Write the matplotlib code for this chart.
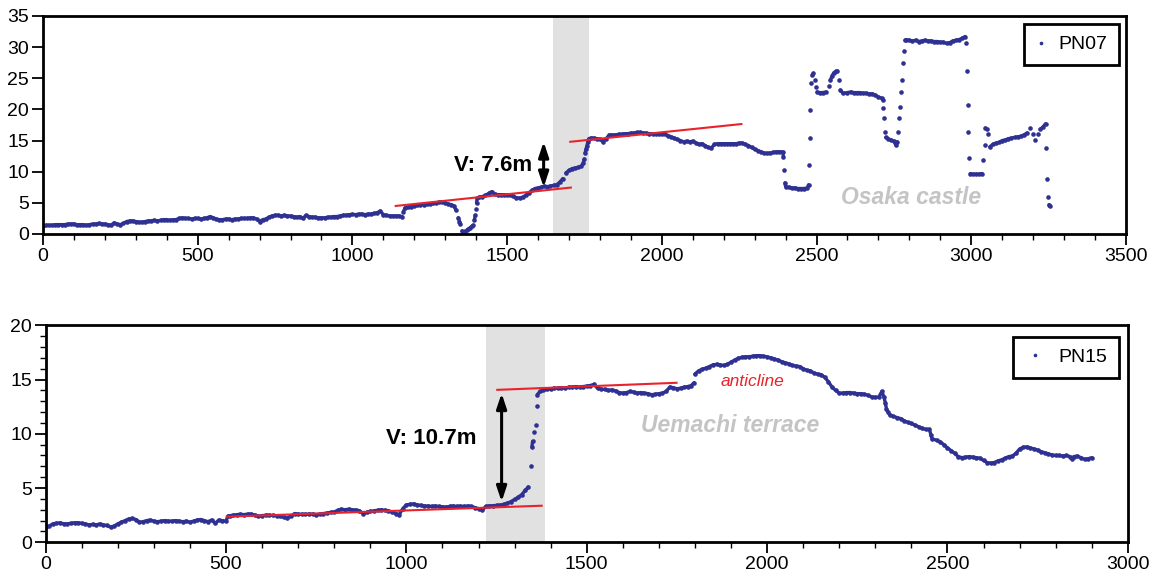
import numpy as np
import matplotlib
matplotlib.use("Agg")
import matplotlib.pyplot as plt
from matplotlib.ticker import MultipleLocator

plt.rcParams["font.family"] = ["Liberation Sans", "DejaVu Sans"]

# PN07 profile: (distance m, elevation m)
pn07 = [
    (0, 1.3), (10, 1.4), (20, 1.4), (30, 1.4), (40, 1.5), (50, 1.5), (60, 1.5), (70, 1.5), (80, 1.6), (90, 1.6),
    (100, 1.6), (110, 1.5), (120, 1.5), (130, 1.5), (140, 1.4), (150, 1.5), (160, 1.6), (170, 1.6), (180, 1.7), (190, 1.6),
    (200, 1.6), (210, 1.5), (220, 1.4), (230, 1.8), (240, 1.6), (250, 1.5), (260, 1.7), (270, 2.0), (280, 2.1), (290, 2.1),
    (300, 2.0), (310, 1.9), (320, 1.9), (330, 2.0), (340, 2.1), (350, 2.1), (360, 2.2), (370, 2.1), (380, 2.2), (390, 2.3),
    (400, 2.3), (410, 2.2), (420, 2.3), (430, 2.3), (440, 2.5), (450, 2.6), (460, 2.5), (470, 2.5), (480, 2.4), (490, 2.5),
    (500, 2.5), (510, 2.4), (520, 2.5), (530, 2.6), (540, 2.8), (550, 2.6), (560, 2.4), (570, 2.3), (580, 2.3), (590, 2.4),
    (600, 2.4), (610, 2.3), (620, 2.4), (630, 2.4), (640, 2.5), (650, 2.5), (660, 2.5), (670, 2.6), (680, 2.6), (690, 2.4),
    (700, 2.0), (710, 2.3), (720, 2.4), (730, 2.7), (740, 2.9), (750, 3.0), (760, 3.0), (770, 2.9), (780, 3.0), (790, 2.9),
    (800, 2.9), (810, 2.8), (820, 2.7), (830, 2.8), (840, 2.5), (850, 3.0), (860, 2.8), (870, 2.7), (880, 2.7), (890, 2.6),
    (900, 2.6), (910, 2.6), (920, 2.7), (930, 2.7), (940, 2.8), (950, 2.8), (960, 2.9), (970, 3.0), (980, 3.0), (990, 3.1),
    (1000, 3.15), (1010, 3.1), (1020, 3.2), (1030, 3.2), (1040, 3.1), (1050, 3.2), (1060, 3.2), (1070, 3.3), (1080, 3.4),
    (1090, 3.7), (1100, 3.1), (1110, 3.0), (1120, 2.9), (1130, 2.9), (1140, 2.9), (1150, 2.9), (1160, 2.8), (1165, 3.6),
    (1170, 4.2), (1180, 4.3), (1190, 4.4), (1200, 4.5), (1210, 4.6), (1220, 4.7), (1230, 4.7), (1240, 4.8), (1250, 4.8),
    (1260, 4.9), (1270, 5.0), (1280, 5.1), (1290, 5.2), (1300, 5.0), (1310, 4.8), (1320, 4.7), (1328, 4.5),
    (1335, 3.8), (1342, 2.6), (1346, 2.0), (1349, 1.6), (1354, 0.5), (1360, 0.3), (1365, 0.4), (1370, 0.6), (1375, 0.8),
    (1380, 1.0), (1385, 1.2), (1390, 1.4), (1394, 2.2), (1397, 3.0), (1399, 4.0), (1401, 5.0), (1403, 5.7), (1410, 5.9),
    (1420, 6.0), (1430, 6.2), (1440, 6.5), (1450, 6.8), (1460, 6.4), (1470, 6.3), (1480, 6.3), (1490, 6.3), (1500, 6.2),
    (1510, 6.3), (1520, 6.1), (1530, 5.8), (1540, 5.8), (1550, 5.9), (1560, 6.2), (1570, 6.6), (1580, 7.0), (1590, 7.3),
    (1600, 7.4), (1610, 7.5), (1620, 7.7), (1630, 7.6), (1640, 7.7), (1650, 7.8), (1660, 7.9), (1670, 8.3), (1680, 8.9),
    (1690, 9.8), (1700, 10.2), (1710, 10.5), (1720, 10.6), (1730, 10.7), (1740, 10.9), (1746, 11.4), (1749, 12.0),
    (1752, 13.0), (1755, 13.6), (1758, 14.2), (1761, 14.8), (1764, 15.3), (1770, 15.4), (1780, 15.4), (1790, 15.3),
    (1800, 15.2), (1810, 14.8), (1820, 15.3), (1830, 15.9), (1840, 15.9), (1850, 15.9), (1860, 16.0), (1870, 16.0),
    (1880, 16.1), (1890, 16.1), (1900, 16.2), (1910, 16.2), (1920, 16.3), (1930, 16.3), (1940, 16.2), (1950, 16.2),
    (1960, 16.1), (1970, 16.1), (1980, 16.1), (1990, 16.1), (2000, 16.0), (2010, 16.0), (2020, 15.8), (2030, 15.6),
    (2040, 15.4), (2050, 15.2), (2060, 15.0), (2070, 14.8), (2080, 14.9), (2090, 14.8), (2100, 14.9), (2110, 14.6),
    (2120, 14.4), (2130, 14.5), (2140, 14.2), (2150, 13.9), (2160, 13.8), (2170, 14.4), (2180, 14.5), (2190, 14.5),
    (2200, 14.5), (2210, 14.5), (2220, 14.5), (2230, 14.5), (2240, 14.5), (2250, 14.6), (2260, 14.6), (2270, 14.4),
    (2280, 14.2), (2290, 13.9), (2300, 13.6), (2310, 13.4), (2320, 13.2), (2330, 13.0), (2340, 12.95), (2350, 13.0),
    (2360, 13.1), (2370, 13.2), (2380, 13.2), (2390, 13.2), (2393, 12.4), (2396, 10.3), (2398, 8.2), (2400, 7.6),
    (2410, 7.5), (2420, 7.4), (2430, 7.4), (2440, 7.3), (2450, 7.3), (2460, 7.3), (2470, 7.4), (2474, 7.9),
    (2476, 11.1), (2478, 15.4), (2480, 19.9), (2483, 24.2), (2486, 25.5), (2490, 25.8), (2494, 24.8), (2498, 23.6),
    (2502, 22.8), (2510, 22.7), (2520, 22.7), (2530, 22.8), (2540, 23.8), (2545, 24.7), (2550, 25.4), (2556, 25.9),
    (2562, 26.1), (2567, 26.1), (2572, 24.7), (2577, 23.1), (2585, 22.6), (2600, 22.7), (2610, 22.8), (2620, 22.7),
    (2630, 22.7), (2640, 22.7), (2650, 22.6), (2660, 22.6), (2670, 22.5), (2680, 22.5), (2690, 22.3), (2700, 22.0),
    (2710, 21.8), (2714, 21.5), (2716, 20.2), (2718, 18.6), (2720, 16.4), (2724, 15.5), (2730, 15.3), (2740, 15.1),
    (2750, 14.9), (2756, 14.3), (2760, 14.8), (2763, 16.4), (2766, 18.6), (2769, 20.4), (2772, 22.8), (2775, 24.7),
    (2778, 27.4), (2782, 29.3), (2786, 31.1), (2790, 31.2), (2800, 31.1), (2810, 31.0), (2820, 31.1), (2830, 30.9),
    (2840, 31.0), (2850, 31.1), (2860, 31.0), (2870, 31.0), (2880, 30.9), (2890, 30.9), (2900, 30.8), (2910, 30.8),
    (2920, 30.6), (2930, 30.7), (2940, 31.0), (2950, 31.1), (2960, 31.2), (2970, 31.4), (2980, 31.7), (2984, 30.6),
    (2986, 26.1), (2988, 20.7), (2990, 16.4), (2993, 12.2), (2997, 9.7), (3005, 9.6), (3015, 9.6), (3025, 9.6),
    (3035, 9.7), (3038, 11.9), (3043, 14.3), (3046, 17.0), (3050, 16.8), (3055, 16.0), (3060, 14.0), (3070, 14.4),
    (3080, 14.6), (3090, 14.7), (3100, 15.0), (3110, 15.1), (3120, 15.3), (3130, 15.4), (3140, 15.5), (3150, 15.6),
    (3160, 15.7), (3170, 15.9), (3180, 16.2), (3190, 17.0), (3200, 16.0), (3207, 15.1), (3215, 16.0), (3223, 16.8),
    (3232, 17.2), (3240, 17.7), (3243, 13.8), (3246, 8.9), (3249, 6.0), (3251, 4.7), (3253, 4.5),
]

# PN15 profile
pn15 = [
    (0, 1.45), (10, 1.5), (20, 1.7), (30, 1.75), (40, 1.8), (50, 1.7), (60, 1.7), (70, 1.75), (80, 1.8), (90, 1.8),
    (100, 1.75), (110, 1.7), (120, 1.6), (130, 1.65), (140, 1.6), (150, 1.7), (160, 1.6), (170, 1.55), (180, 1.4),
    (190, 1.5), (200, 1.7), (210, 1.85), (220, 2.0), (230, 2.15), (240, 2.2), (250, 2.1), (260, 1.85), (270, 1.9),
    (280, 2.0), (290, 2.05), (300, 1.95), (310, 1.9), (320, 1.95), (330, 2.0), (340, 1.95), (350, 1.95), (360, 2.0),
    (370, 1.95), (380, 1.9), (390, 1.95), (400, 1.85), (410, 1.95), (420, 2.05), (430, 2.1), (440, 2.0), (450, 1.9),
    (460, 2.05), (470, 1.75), (480, 2.05), (490, 2.0), (500, 1.95), (505, 2.4), (510, 2.45), (520, 2.5), (530, 2.55),
    (540, 2.58), (550, 2.55), (560, 2.6), (570, 2.6), (580, 2.5), (590, 2.4), (600, 2.45), (610, 2.5), (620, 2.5),
    (630, 2.48), (640, 2.45), (650, 2.4), (660, 2.3), (670, 2.27), (680, 2.4), (690, 2.65), (700, 2.6), (710, 2.58),
    (720, 2.58), (730, 2.6), (740, 2.6), (750, 2.55), (760, 2.6), (770, 2.65), (780, 2.7), (790, 2.75), (800, 2.8),
    (810, 2.95), (820, 3.05), (830, 3.0), (840, 3.05), (850, 3.0), (860, 2.98), (870, 2.9), (880, 2.65), (890, 2.75),
    (900, 2.85), (910, 2.9), (920, 2.95), (930, 3.0), (940, 2.95), (950, 2.9), (960, 2.8), (970, 2.65), (980, 2.55),
    (990, 3.1), (1000, 3.45), (1010, 3.5), (1020, 3.55), (1030, 3.45), (1040, 3.4), (1050, 3.35), (1060, 3.35),
    (1070, 3.3), (1080, 3.35), (1090, 3.3), (1100, 3.28), (1110, 3.25), (1120, 3.3), (1130, 3.35), (1140, 3.3),
    (1150, 3.33), (1160, 3.3), (1170, 3.35), (1180, 3.3), (1190, 3.2), (1200, 3.1), (1210, 2.95), (1220, 3.3),
    (1230, 3.35), (1240, 3.38), (1250, 3.4), (1260, 3.42), (1270, 3.5), (1280, 3.6), (1290, 3.75), (1300, 3.95),
    (1310, 4.15), (1320, 4.4), (1330, 4.8), (1338, 5.1), (1345, 7.0), (1348, 8.8), (1350, 9.3), (1355, 10.2),
    (1359, 10.8), (1361, 12.6), (1363, 13.6), (1370, 13.9), (1380, 14.0), (1390, 14.1), (1400, 14.15), (1410, 14.2),
    (1420, 14.2), (1430, 14.25), (1440, 14.2), (1450, 14.3), (1460, 14.3), (1470, 14.35), (1480, 14.3), (1490, 14.35),
    (1500, 14.4), (1510, 14.45), (1520, 14.55), (1530, 14.2), (1540, 14.1), (1550, 14.1), (1560, 14.0), (1570, 14.05),
    (1580, 13.95), (1590, 13.8), (1600, 13.75), (1610, 13.8), (1620, 13.9), (1630, 13.85), (1640, 13.75), (1650, 13.8),
    (1660, 13.75), (1670, 13.7), (1680, 13.6), (1690, 13.65), (1700, 13.7), (1710, 13.75), (1720, 13.9), (1730, 14.3),
    (1740, 14.25), (1750, 14.15), (1760, 14.2), (1770, 14.3), (1780, 14.35), (1790, 14.45), (1797, 14.7), (1800, 15.5),
    (1810, 15.8), (1820, 15.95), (1830, 16.05), (1840, 16.2), (1850, 16.35), (1860, 16.4), (1870, 16.35), (1880, 16.3),
    (1890, 16.4), (1900, 16.6), (1910, 16.8), (1920, 16.95), (1930, 17.05), (1940, 17.1), (1950, 17.1), (1960, 17.15),
    (1970, 17.2), (1980, 17.2), (1990, 17.15), (2000, 17.1), (2010, 17.0), (2020, 16.9), (2030, 16.8), (2040, 16.65),
    (2050, 16.55), (2060, 16.45), (2070, 16.3), (2080, 16.25), (2090, 16.2), (2100, 16.0), (2110, 15.85), (2120, 15.8),
    (2130, 15.6), (2140, 15.5), (2150, 15.45), (2160, 15.2), (2170, 14.8), (2180, 14.3), (2190, 14.0), (2200, 13.75),
    (2210, 13.75), (2220, 13.8), (2230, 13.8), (2240, 13.75), (2250, 13.7), (2260, 13.7), (2270, 13.65), (2280, 13.55),
    (2290, 13.4), (2300, 13.35), (2310, 13.4), (2318, 13.9), (2324, 13.4), (2328, 12.8), (2331, 12.3), (2335, 12.0),
    (2340, 11.75), (2350, 11.6), (2360, 11.5), (2370, 11.4), (2380, 11.2), (2390, 11.05), (2400, 10.95), (2410, 10.8),
    (2420, 10.65), (2430, 10.5), (2440, 10.4), (2450, 10.4), (2454, 9.9), (2457, 9.55), (2470, 9.4), (2480, 9.25),
    (2490, 9.0), (2500, 8.7), (2510, 8.45), (2520, 8.2), (2530, 7.9), (2540, 7.8), (2550, 7.85), (2560, 7.9),
    (2570, 7.85), (2580, 7.8), (2590, 7.75), (2600, 7.55), (2610, 7.35), (2620, 7.3), (2630, 7.35), (2640, 7.5),
    (2650, 7.6), (2660, 7.75), (2670, 7.9), (2680, 7.95), (2690, 8.2), (2700, 8.6), (2710, 8.75), (2720, 8.8),
    (2730, 8.7), (2740, 8.6), (2750, 8.5), (2760, 8.35), (2770, 8.25), (2780, 8.15), (2790, 8.05), (2800, 8.0),
    (2810, 8.0), (2820, 7.95), (2830, 8.0), (2840, 7.9), (2845, 7.7), (2850, 7.9), (2860, 7.95), (2870, 7.8),
    (2880, 7.65), (2890, 7.7), (2900, 7.8),
]

# fitted red lines, shaded scarp zones and throw arrows
pn07_lines = [((1140, 1706), (4.5, 7.45)), ((1704, 2257), (14.8, 17.65))]
pn15_lines = [((502, 1375), (2.36, 3.37)), ((1252, 1749), (14.05, 14.7))]
pn07_band = (1648, 1764)
pn15_band = (1221, 1384)
pn07_arrow = (1618, 7.5, 14.8)
pn15_arrow = (1264, 3.74, 13.73)

BLUE = "#2e3192"
RED = "#e8232b"
GREY_BAND = "#e0e1e0"
GREY_TEXT = "#c4c4c4"

fig = plt.figure(figsize=(11.5, 5.79), dpi=100)
ax1 = fig.add_axes([0.0374, 0.5959, 0.9417, 0.3765])
ax2 = fig.add_axes([0.0397, 0.0634, 0.941, 0.3748])


def style(ax, xmax, ymax, yminor):
    ax.set_xlim(0, xmax)
    ax.set_ylim(0, ymax)
    ax.xaxis.set_major_locator(MultipleLocator(500))
    ax.xaxis.set_minor_locator(MultipleLocator(100))
    ax.yaxis.set_major_locator(MultipleLocator(5))
    if yminor:
        ax.yaxis.set_minor_locator(MultipleLocator(1))
    ax.tick_params(which="major", direction="out", length=8, width=1.3, labelsize=14, pad=2)
    ax.tick_params(which="minor", direction="out", length=4.5, width=1.0)
    for s in ax.spines.values():
        s.set_linewidth(2)


def draw(ax, data, lines, band, arrow, label, maxdy):
    d = np.array(data)
    ax.axvspan(band[0], band[1], color=GREY_BAND, zorder=0, lw=0)
    # dense stretches of dots merge into a thick trace; steep jumps stay as dots
    xs, ys = [], []
    for i in range(len(d)):
        if i and abs(d[i, 1] - d[i - 1, 1]) > maxdy:
            xs.append(np.nan)
            ys.append(np.nan)
        xs.append(d[i, 0])
        ys.append(d[i, 1])
    ax.plot(xs, ys, "-", lw=2.4, color=BLUE, solid_capstyle="round", zorder=2)
    ax.plot(d[:, 0], d[:, 1], "o", ms=3.3, mew=0, color=BLUE, label=label, zorder=2)
    for lx, ly in lines:
        ax.plot(lx, ly, color=RED, lw=1.5, zorder=3)
    ax.annotate("", xy=(arrow[0], arrow[2]), xytext=(arrow[0], arrow[1]),
                arrowprops=dict(arrowstyle="<|-|>,head_length=0.9,head_width=0.3",
                                color="black", lw=2.2, shrinkA=0, shrinkB=0), zorder=4)


style(ax1, 3500, 35, False)
style(ax2, 3000, 20, True)

draw(ax1, pn07, pn07_lines, pn07_band, pn07_arrow, "PN07", 0.8)
draw(ax2, pn15, pn15_lines, pn15_band, pn15_arrow, "PN15", 0.6)

ax1.text(1580, 11.0, "V: 7.6m", fontsize=16, fontweight="bold", ha="right", va="center")
ax2.text(1195, 9.6, "V: 10.7m", fontsize=16, fontweight="bold", ha="right", va="center")
ax1.text(2805, 5.8, "Osaka castle", fontsize=16.5, fontweight="bold", fontstyle="italic",
         color=GREY_TEXT, ha="center", va="center")
ax2.text(1897, 10.8, "Uemachi terrace", fontsize=16.5, fontweight="bold", fontstyle="italic",
         color=GREY_TEXT, ha="center", va="center")
ax2.text(1960, 14.8, "anticline", fontsize=12.5, fontstyle="italic", color=RED, ha="center", va="center")

for ax, anchor, hl, tp in ((ax1, (0.9935, 0.963), 0.5, 0.65), (ax2, (0.992, 0.9475), 1.1, 0.65)):
    leg = ax.legend(loc="upper right", bbox_to_anchor=anchor, borderaxespad=0, fontsize=14,
                    fancybox=False, framealpha=1, edgecolor="black", markerscale=0.8,
                    handlelength=hl, handletextpad=tp, borderpad=0.6)
    leg.get_frame().set_linewidth(2)

fig.savefig("out.png", dpi=100)
